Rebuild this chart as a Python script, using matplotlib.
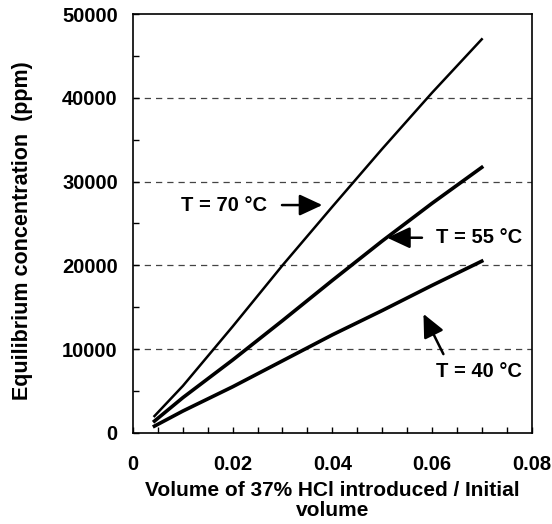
import matplotlib
matplotlib.use("Agg")
import matplotlib.pyplot as plt
from matplotlib.ticker import MultipleLocator, FuncFormatter

plt.rcParams['font.family'] = ['Liberation Sans', 'DejaVu Sans']
plt.rcParams['font.weight'] = 'bold'

# volume ratio of 37% HCl added
x = [0.0043, 0.01, 0.02, 0.03, 0.04, 0.05, 0.06, 0.07]
# equilibrium concentration (ppm)
t70 = [2000, 5600, 12700, 20000, 27000, 33900, 40600, 47000]
t55 = [1400, 4200, 8700, 13400, 18200, 22900, 27400, 31700]
t40 = [800, 2600, 5500, 8600, 11700, 14600, 17600, 20500]

fig = plt.figure(figsize=(5.52, 5.24), dpi=100)
ax = fig.add_axes([0.241, 0.174, 0.722, 0.799])

for yy in [10000, 20000, 30000, 40000]:
    ax.axhline(yy, color='#444444', lw=0.9, ls=(0, (5, 4)), zorder=1)

ax.plot(x, t70, color='black', lw=1.8, zorder=3)
ax.plot(x, t55, color='black', lw=2.6, zorder=3)
ax.plot(x, t40, color='black', lw=2.6, zorder=3)

arrow = dict(arrowstyle='-|>,head_length=1.4,head_width=0.65', mutation_scale=10,
             color='black', lw=1.8, shrinkA=0, shrinkB=0)
ax.annotate('', xy=(0.0380, 27200), xytext=(0.0299, 27200), arrowprops=arrow)
ax.annotate('', xy=(0.0510, 23300), xytext=(0.0580, 23300), arrowprops=arrow)
ax.annotate('', xy=(0.0583, 14200), xytext=(0.0623, 9400), arrowprops=arrow)

ax.text(0.0097, 27200, 'T = 70 °C', fontsize=14.5, fontweight='bold', va='center', ha='left')
ax.text(0.0609, 23300, 'T = 55 °C', fontsize=14.5, fontweight='bold', va='center', ha='left')
ax.text(0.0609, 7300, 'T = 40 °C', fontsize=14.5, fontweight='bold', va='center', ha='left')

ax.set_xlim(0, 0.08)
ax.set_ylim(0, 50000)
ax.xaxis.set_major_locator(MultipleLocator(0.02))
ax.xaxis.set_minor_locator(MultipleLocator(0.005))
ax.yaxis.set_major_locator(MultipleLocator(10000))
ax.yaxis.set_minor_locator(MultipleLocator(5000))
ax.xaxis.set_major_formatter(FuncFormatter(lambda v, p: '0' if v == 0 else f'{v:.2f}'))
ax.yaxis.set_major_formatter(FuncFormatter(lambda v, p: f'{int(v)}'))

ax.tick_params(axis='both', which='both', direction='in', length=4, width=1,
               labelsize=14.5, top=False, right=False)
ax.tick_params(axis='x', which='major', pad=16)
ax.tick_params(axis='y', which='major', pad=11)
for lab in ax.get_xticklabels() + ax.get_yticklabels():
    lab.set_fontweight('bold')
for s in ax.spines.values():
    s.set_linewidth(1.2)

ax.set_xlabel('Volume of 37% HCl introduced / Initial\nvolume', fontsize=15,
              fontweight='bold', labelpad=5, linespacing=1.05)
ax.set_ylabel('Equilibrium concentration  (ppm)', fontsize=15.5, fontweight='bold')
ax.yaxis.set_label_coords(-0.25, 0.482)

fig.savefig('out.png', dpi=100)
